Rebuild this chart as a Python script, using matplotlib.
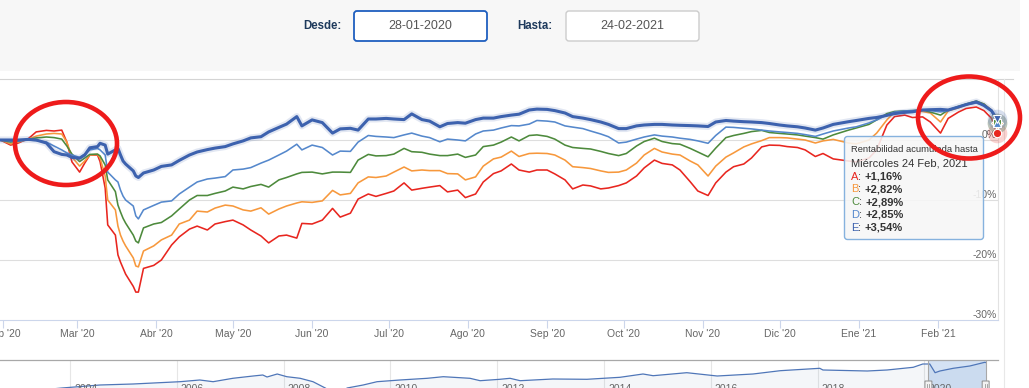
import datetime as dt
import matplotlib
matplotlib.use("Agg")
import matplotlib.pyplot as plt
from matplotlib.patches import Ellipse, FancyBboxPatch, Rectangle

plt.rcParams['font.family'] = ['Liberation Sans', 'DejaVu Sans']

W, H = 1029, 388

fechas = [
    "2020-01-28", "2020-01-31", "2020-02-04", "2020-02-07", "2020-02-11", "2020-02-14", "2020-02-18", "2020-02-21", "2020-02-24", "2020-02-26",
    "2020-02-28", "2020-03-02", "2020-03-04", "2020-03-06", "2020-03-09", "2020-03-10", "2020-03-12", "2020-03-13", "2020-03-16", "2020-03-17",
    "2020-03-18", "2020-03-19", "2020-03-20", "2020-03-23", "2020-03-24", "2020-03-25", "2020-03-27", "2020-03-31", "2020-04-03", "2020-04-07",
    "2020-04-10", "2020-04-14", "2020-04-17", "2020-04-21", "2020-04-24", "2020-04-28", "2020-05-01", "2020-05-05", "2020-05-08", "2020-05-12",
    "2020-05-15", "2020-05-19", "2020-05-22", "2020-05-26", "2020-05-28", "2020-06-01", "2020-06-05", "2020-06-09", "2020-06-12", "2020-06-16",
    "2020-06-19", "2020-06-23", "2020-06-26", "2020-06-30", "2020-07-03", "2020-07-07", "2020-07-10", "2020-07-14", "2020-07-17", "2020-07-21",
    "2020-07-24", "2020-07-28", "2020-07-31", "2020-08-04", "2020-08-07", "2020-08-11", "2020-08-14", "2020-08-18", "2020-08-21", "2020-08-25",
    "2020-08-28", "2020-09-01", "2020-09-04", "2020-09-08", "2020-09-11", "2020-09-15", "2020-09-18", "2020-09-22", "2020-09-25", "2020-09-29",
    "2020-10-02", "2020-10-06", "2020-10-09", "2020-10-13", "2020-10-16", "2020-10-20", "2020-10-23", "2020-10-27", "2020-10-30", "2020-11-03",
    "2020-11-06", "2020-11-10", "2020-11-13", "2020-11-17", "2020-11-20", "2020-11-24", "2020-11-27", "2020-12-01", "2020-12-04", "2020-12-08",
    "2020-12-11", "2020-12-15", "2020-12-18", "2020-12-22", "2020-12-28", "2020-12-31", "2021-01-05", "2021-01-08", "2021-01-12", "2021-01-15",
    "2021-01-19", "2021-01-22", "2021-01-26", "2021-01-29", "2021-02-02", "2021-02-05", "2021-02-09", "2021-02-12", "2021-02-16", "2021-02-19",
    "2021-02-22", "2021-02-24",
]

serie_a = [
    0, 0, -0.85, -0.5, 0.25, 1.35, 1.6, 1.5, 1.65, -0.35,
    -3.65, -5.35, -3.85, -2.5, -2.5, -3.6, -8.0, -14.15, -15.85, -19.15,
    -20.35, -21.35, -22.35, -24.4, -25.35, -25.35, -21.4, -20.9, -20.0, -17.5,
    -16.15, -14.85, -14.35, -15.0, -14.0, -13.6, -13.35, -14.15, -15.0, -16.0,
    -17.15, -16.0, -15.85, -16.35, -13.9, -14.0, -13.35, -11.4, -12.85, -12.2,
    -9.85, -9.0, -9.4, -8.9, -8.5, -7.15, -8.35, -8.05, -7.85, -7.6,
    -8.65, -8.35, -9.6, -9.0, -7.0, -5.6, -5.15, -4.0, -5.0, -5.35,
    -5.0, -5.0, -5.65, -6.65, -8.15, -7.5, -7.65, -8.15, -8.0, -7.6,
    -7.15, -6.0, -4.65, -3.35, -3.9, -4.15, -5.0, -6.95, -8.5, -9.25,
    -7.15, -5.35, -4.45, -4.0, -3.0, -1.15, -0.85, -0.9, -1.1, -1.25,
    -1.65, -2.75, -2.25, -3.15, -3.5, -3.65, -3.0, -1.65, 2.5, 3.9,
    4.15, 3.75, 3.85, 3.0, 1.15, 3.6, 4.65, 5.25, 5.5, 4.9,
    3.6, 1.16,
]
serie_b = [
    0, 0, -0.65, -0.35, 0.15, 0.65, 1.0, 1.1, 1.0, -0.35,
    -2.85, -4.35, -3.5, -2.5, -2.4, -3.0, -6.0, -10.0, -11.65, -14.35,
    -15.85, -16.85, -17.65, -19.65, -21.0, -21.15, -18.5, -17.65, -16.65, -15.85,
    -14.0, -13.35, -11.85, -12.0, -11.35, -10.85, -11.0, -11.65, -11.85, -11.3,
    -12.35, -11.5, -11.0, -10.5, -10.3, -10.4, -10.15, -8.4, -9.15, -8.9,
    -7.15, -6.15, -6.25, -6.0, -5.35, -4.5, -5.15, -5.0, -5.1, -5.1,
    -5.6, -5.65, -6.65, -6.15, -4.35, -3.15, -2.85, -1.85, -2.75, -2.25,
    -2.2, -2.25, -2.5, -3.35, -4.45, -4.6, -4.75, -5.15, -5.4, -5.35,
    -5.0, -3.85, -2.5, -1.4, -2.0, -2.35, -2.5, -3.5, -4.15, -6.0,
    -4.35, -2.85, -2.15, -1.15, -0.65, -0.1, 0.4, 0.4, 0.35, 0.15,
    0, -0.5, -0.15, 0.1, -0.5, -0.65, 0, 1.15, 3.35, 4.65,
    4.75, 4.75, 4.75, 4.5, 3.0, 4.85, 5.35, 5.85, 6.35, 6.0,
    5.0, 2.82,
]
serie_c = [
    0, 0, -0.35, -0.15, 0.1, 0.35, 0.5, 0.4, 0.15, -1.0,
    -2.35, -3.6, -3.0, -2.4, -2.35, -2.65, -4.15, -6.65, -8.6, -10.85,
    -12.0, -13.05, -13.85, -15.85, -16.85, -17.15, -14.65, -14.0, -13.75, -12.65,
    -11.5, -10.0, -9.25, -9.25, -8.9, -8.5, -7.85, -8.15, -7.75, -7.4,
    -7.85, -6.65, -6.25, -5.65, -5.4, -5.35, -5.65, -5.35, -5.35, -5.4,
    -3.35, -2.4, -2.65, -2.6, -2.35, -1.4, -1.95, -2.05, -2.35, -2.6,
    -2.6, -2.35, -2.9, -2.5, -1.1, -0.85, -0.35, 0.5, -0.15, 0.75,
    0.85, 0.6, 0.15, -0.85, -1.25, -1.4, -1.5, -1.9, -2.25, -2.6,
    -2.25, -1.0, -0.25, 0.3, -0.25, -0.6, -0.7, -1.4, -2.0, -2.8,
    -1.35, 0.4, 0.75, 1.1, 1.4, 1.6, 1.25, 1.1, 1.0, 0.85,
    0.65, 0.4, 0.15, 0.85, 1.65, 2.0, 2.6, 3.35, 4.4, 4.75,
    4.85, 4.9, 5.0, 4.65, 4.15, 5.0, 5.6, 6.0, 6.5, 6.0,
    4.85, 2.89,
]
serie_d = [
    0, 0, -0.15, -0.15, 0, -0.1, -0.35, -1.0, -1.65, -2.15,
    -2.5, -2.9, -2.35, -1.65, -1.4, -1.65, -2.5, -5.35, -6.65, -7.0,
    -8.35, -9.35, -10.0, -11.0, -12.65, -13.15, -11.65, -10.9, -10.35, -10.15,
    -9.0, -7.85, -7.0, -6.5, -6.35, -6.1, -5.0, -4.85, -4.6, -3.85,
    -3.35, -2.5, -1.85, -0.7, -1.65, -0.85, -1.25, -2.5, -1.85, -1.9,
    -0.35, 0.75, 0.6, 0.5, 0.4, 0.85, 1.15, 0.65, 0.4, -0.3,
    0.15, 0, -0.15, 1.0, 1.5, 1.65, 2.0, 2.4, 2.35, 2.65,
    3.25, 3.15, 3.0, 2.35, 2.15, 1.9, 1.5, 1.0, 0.55, -0.5,
    -0.35, 0.15, 0.5, 0.85, 0.65, 0.5, 0.3, 0.1, -0.15, -0.55,
    0.75, 2.15, 2.1, 1.95, 1.85, 1.65, 1.5, 1.35, 1.25, 1.1,
    0.9, 0.6, 1.0, 1.5, 2.0, 2.2, 2.85, 3.35, 4.15, 4.65,
    4.85, 4.9, 5.0, 4.9, 4.7, 4.9, 5.5, 5.9, 6.15, 5.85,
    5.0, 2.85,
]
serie_e = [
    0, 0, 0, 0, 0.1, 0, -0.5, -1.95, -2.4, -2.5,
    -2.9, -3.05, -2.5, -1.3, -1.1, -0.55, -0.85, -2.35, -1.65, -1.4,
    -2.5, -3.5, -4.0, -5.15, -6.0, -6.25, -5.5, -5.0, -4.4, -4.15,
    -3.4, -2.5, -2.0, -1.6, -1.35, -1.1, -0.65, -0.15, 0.35, 0.55,
    1.35, 2.1, 2.65, 3.9, 2.35, 3.35, 2.9, 1.15, 1.85, 1.95,
    1.65, 3.5, 3.5, 3.6, 3.5, 3.4, 4.35, 3.4, 3.15, 2.2,
    2.75, 2.9, 2.8, 3.4, 3.65, 3.65, 3.9, 4.15, 4.3, 5.0,
    5.15, 5.1, 4.9, 4.5, 3.9, 3.65, 3.4, 3.0, 2.6, 1.9,
    1.9, 2.35, 2.5, 2.6, 2.6, 2.5, 2.45, 2.4, 2.35, 2.25,
    3.0, 3.25, 3.15, 3.05, 3.0, 2.9, 2.75, 2.5, 2.35, 2.2,
    2.0, 1.65, 2.0, 2.6, 3.05, 3.25, 3.6, 3.75, 4.1, 4.4,
    4.6, 4.7, 5.0, 5.05, 5.1, 5.0, 5.5, 5.9, 6.35, 5.75,
    4.85, 3.54,
]

nombres = ["A", "B", "C", "D", "E"]
colores = ["#e8261f", "#f7983c", "#4d8a3c", "#5588cc", "#3d62ae"]
marcadores = ["o", "D", "s", "^", "v"]
ultimos = ["+1,16%", "+2,82%", "+2,89%", "+2,85%", "+3,54%"]

meses = ["Feb '20", "Mar '20", "Abr '20", "May '20", "Jun '20", "Jul '20", "Ago '20",
         "Sep '20", "Oct '20", "Nov '20", "Dic '20", "Ene '21", "Feb '21"]
inicio_meses = ["2020-02-01", "2020-03-01", "2020-04-01", "2020-05-01", "2020-06-01", "2020-07-01", "2020-08-01",
                "2020-09-01", "2020-10-01", "2020-11-01", "2020-12-01", "2021-01-01", "2021-02-01"]
etiquetas_y = [0, -10, -20, -30]

# navegador (historico completo)
anios_nav = [2002.7, 2003.85, 2004.56, 2005.18, 2006.06, 2006.43, 2006.68, 2007.05, 2007.43, 2007.61,
             2007.69, 2007.88, 2008.06, 2008.31, 2008.55, 2008.78, 2008.95, 2009.1, 2009.19, 2009.49,
             2009.75, 2010.18, 2010.69, 2010.99, 2011.49, 2011.68, 2012.05, 2012.24, 2012.43, 2013.04,
             2013.68, 2014.3, 2014.73, 2014.92, 2015.55, 2016.12, 2016.79, 2017.3, 2018.04, 2018.1,
             2018.93, 2019.3, 2019.79, 2019.97, 2020.1, 2020.2, 2020.29, 2020.54, 2020.85, 2021.13, 2021.147]
valores_nav = [28, 40, 46, 48, 52.6, 56, 52.6, 59.4, 64, 66,
               62, 68, 62.6, 59.4, 52.6, 40, 28, 33, 40, 46,
               52.6, 56, 59.4, 62.6, 59.4, 54.6, 57.4, 59.4, 54.6, 58,
               57.4, 61.4, 68, 64.6, 70.6, 64, 68, 74.6, 79.4, 76,
               74, 76, 81.4, 88, 88, 70.6, 74, 79.4, 84, 91.4, 91]
anios_rejilla = [2004, 2006, 2008, 2010, 2012, 2014, 2016, 2018, 2020]
seleccion = (2020.075, 2021.147)

x = [dt.datetime.strptime(f, "%Y-%m-%d") for f in fechas]
ticks_x = [dt.datetime.strptime(f, "%Y-%m-%d") for f in inicio_meses]
series = [serie_a, serie_b, serie_c, serie_d, serie_e]

fig = plt.figure(figsize=(W / 100, H / 100), dpi=100)
fig.patch.set_facecolor("white")

def capa(z):
    c = fig.add_axes([0, 0, 1, 1], zorder=z)
    c.set_xlim(0, W)
    c.set_ylim(H, 0)
    c.axis("off")
    return c

fondo = capa(0)
ax = fig.add_axes([0, 1 - 320 / H, 998 / W, 240 / H], zorder=2)
nav = fig.add_axes([0, 1 - 400 / H, 998 / W, 40 / H], zorder=2)
frente = capa(5)

# barra de filtros superior
fondo.add_patch(Rectangle((0, 0), 1020, 71, fc="#f7f7f7", ec="none"))
fondo.plot([0, 1013], [79, 79], color="#d4d4d4", lw=0.8)
fondo.plot([1004, 1004], [79, 388], color="#e8e8e8", lw=0.8)
fondo.plot([998, 998], [80, 320], color="#e2e2e2", lw=0.8)
fondo.text(341, 26, "Desde:", ha="right", va="center", fontsize=8.3, fontweight="bold", color="#1e3a5c")
fondo.add_patch(FancyBboxPatch((354, 11), 133, 30, boxstyle="round,pad=0,rounding_size=3",
                               fc="white", ec="#1f5fbf", lw=1.3))
fondo.text(420.5, 26, "28-01-2020", ha="center", va="center", fontsize=9, color="#555555")
fondo.text(552, 26, "Hasta:", ha="right", va="center", fontsize=8.3, fontweight="bold", color="#1e3a5c")
fondo.add_patch(FancyBboxPatch((566, 11), 133, 30, boxstyle="round,pad=0,rounding_size=3",
                               fc="white", ec="#cccccc", lw=1))
fondo.text(632.5, 26, "24-02-2021", ha="center", va="center", fontsize=9, color="#555555")

# grafico principal
ax.patch.set_alpha(0)
for s, c in zip(series[:4], colores[:4]):
    ax.plot(x, s, color=c, lw=1.15, solid_joinstyle="round")
ax.plot(x, serie_e, color=colores[4], lw=5, alpha=0.15, solid_capstyle="round")
ax.plot(x, serie_e, color=colores[4], lw=2.2, solid_joinstyle="round")

for s, c, m in zip(series, colores, marcadores):
    ax.scatter([x[-1]], [s[-1]], s=200, color=c, alpha=0.2, lw=0, clip_on=False, zorder=4)
for s, c, m in zip(series, colores, marcadores):
    ax.plot([x[-1]], [s[-1]], marker=m, ms=6, mfc=c, mec="white", mew=0.8, clip_on=False, zorder=5)

ax.set_xlim(dt.datetime(2020, 2, 1) - dt.timedelta(days=1.17), dt.datetime(2020, 2, 1) + dt.timedelta(days=389.5))
ax.set_ylim(-30, 10)
ax.set_yticks([-20, -10, 0])
ax.grid(axis="y", color="#dedede", lw=0.8)
ax.set_axisbelow(True)
ax.tick_params(axis="y", length=0, labelleft=False)
for lado in ["top", "left", "right"]:
    ax.spines[lado].set_visible(False)
ax.spines["bottom"].set_color("#ccd6eb")
ax.spines["bottom"].set_linewidth(0.8)
ax.set_xticks(ticks_x)
ax.set_xticklabels(meses)
ax.tick_params(axis="x", length=5.8, width=0.8, color="#ccd6eb", labelsize=7.5, labelcolor="#666666", pad=0.8)
for v in etiquetas_y:
    ax.annotate(f"{v}%", xy=(1, v), xycoords=ax.get_yaxis_transform(), xytext=(-1, 5),
                textcoords="offset pixels", ha="right", va="center", fontsize=7.5, color="#666666",
                annotation_clip=False)

# navegador
nav.patch.set_alpha(0)
nav.set_xlim(2002.689, 2021.378)
nav.set_ylim(16, 96)
for a in anios_rejilla:
    nav.axvline(a, color="#e6e6e6", lw=0.8, zorder=0)
    nav.text(a + 0.075, 0.40, str(a), transform=nav.get_xaxis_transform(), ha="left", va="top",
             fontsize=7.5, color="#666666")
nav.axvspan(seleccion[0], seleccion[1], color="#c6d9f1", alpha=0.75, lw=0, zorder=1)
nav.fill_between(anios_nav, valores_nav, 0, color="#4572a7", alpha=0.06, lw=0, zorder=1)
nav.plot(anios_nav, valores_nav, color="#4f76b8", lw=0.9, zorder=2)
for lado in ["bottom", "left", "right"]:
    nav.spines[lado].set_visible(False)
nav.spines["top"].set_color("#a8a8a8")
nav.spines["top"].set_linewidth(0.9)
nav.set_xticks([])
nav.set_yticks([])
for a in seleccion:
    nav.axvline(a, color="#a8a8a8", lw=0.8, zorder=3)
    nav.add_patch(FancyBboxPatch((a - 0.065, 26), 0.13, 28, boxstyle="round,pad=0,rounding_size=0.02",
                                 fc="#f2f2f2", ec="#999999", lw=0.8, zorder=4, mutation_aspect=10))
    nav.plot([a - 0.02, a - 0.02], [33, 47], color="#999999", lw=0.6, zorder=5)
    nav.plot([a + 0.02, a + 0.02], [33, 47], color="#999999", lw=0.6, zorder=5)

# tooltip
frente.add_patch(FancyBboxPatch((844.5, 136.5), 139, 103, boxstyle="round,pad=0,rounding_size=3",
                                fc=(0.97, 0.97, 0.97, 0.88), ec="#86b2de", lw=1, zorder=3))
frente.text(851, 149.5, "Rentabilidad acumulada hasta", fontsize=6.75, color="#333333", va="center", zorder=4)
frente.text(851, 163.3, "Miércoles 24 Feb, 2021", fontsize=8, color="#333333", va="center", zorder=4)
for i, (n, c, v) in enumerate(zip(nombres, colores, ultimos)):
    yy = 176.7 + i * 12.75
    t1 = frente.text(851, yy, n, color=c, fontsize=8, va="center", zorder=4)
    t2 = frente.annotate(":", xy=(1, 0.5), xycoords=t1, va="center", ha="left", fontsize=8, color="#333333", zorder=4)
    frente.annotate(v, xy=(1, 0.5), xycoords=t2, xytext=(3, 0), textcoords="offset pixels",
                    va="center", ha="left", fontsize=8, fontweight="bold", color="#333333", zorder=4)

# circulos rojos
frente.add_patch(Ellipse((66, 143.5), 102, 83, fill=False, ec="#ee1b1b", lw=3.3, zorder=6))
frente.add_patch(Ellipse((969, 117.5), 102, 82, fill=False, ec="#ee1b1b", lw=3.3, zorder=6))

fig.savefig("out.png", dpi=100)
